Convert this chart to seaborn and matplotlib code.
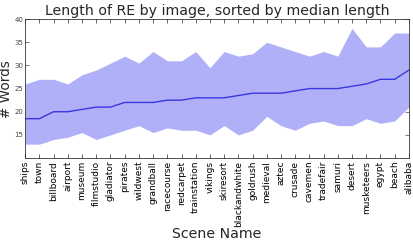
import matplotlib
matplotlib.use("Agg")
import matplotlib.pyplot as plt
import numpy as np
import pandas as pd
import seaborn as sns

scenes = ['ships', 'town', 'billboard', 'airport', 'museum', 'filmstudio', 'gladiator',
          'pirates', 'wildwest', 'grandball', 'racecourse', 'redcarpet', 'trainstation',
          'vikings', 'skiresort', 'blackandwhite', 'goldrush', 'medieval', 'aztec',
          'crusade', 'cavemen', 'tradefair', 'samuri', 'desert', 'musketeers', 'egypt',
          'beach', 'alibaba']
median_len = [18.5, 18.5, 20, 20, 20.5, 21, 21, 22, 22, 22, 22.5, 22.5, 23, 23,
              23, 23.5, 24, 24, 24, 24.5, 25, 25, 25, 25.5, 26, 27, 27, 29]
upper_len = [26, 27, 27, 26, 28, 29, 30.5, 32, 30.5, 33, 31, 31, 33, 29.5,
             33, 32, 32.5, 35, 34, 33, 32, 33, 32, 38, 34, 34, 37, 37]
lower_len = [13, 13, 14, 14.5, 15.5, 14, 15, 16, 17, 15.5, 16.5, 16, 16, 15,
             17, 15, 16, 19, 17, 16, 17.5, 18, 17, 17, 18.5, 17.5, 18, 21]

df = pd.DataFrame({'pos': np.arange(len(scenes)), 'scene': scenes,
                   'median': median_len, 'lo': lower_len, 'hi': upper_len})

sns.set_style("white", {"xtick.direction": "in", "ytick.direction": "in"})
plt.rcParams["font.family"] = "DejaVu Sans"

fig = plt.figure(figsize=(4.13, 2.42), dpi=100)
ax = fig.add_axes([0.061, 0.347, 0.929, 0.574])

ax.fill_between(df['pos'], df['lo'], df['hi'], color='#b0b0f8', linewidth=0)
sns.lineplot(data=df, x='pos', y='median', ax=ax, color='#3838e0', linewidth=1)

ax.set_xlim(0, len(scenes) - 1)
ax.set_ylim(10, 40)
ax.set_xticks(df['pos'])
ax.set_xticklabels(scenes, rotation=90, fontsize=6.5)
ax.set_yticks([15, 20, 25, 30, 35, 40])
ax.tick_params(axis='y', labelsize=5, length=3, width=0.5, colors='#444444',
               right=True, left=True, pad=1.5)
ax.tick_params(axis='x', length=3, width=0.5, top=True, bottom=True, pad=2)
for lab in ax.get_xticklabels():
    lab.set_color('black')
for s in ax.spines.values():
    s.set_linewidth(0.6)
    s.set_color('#333333')

ax.set_title('Length of RE by image, sorted by median length', fontsize=10.2, pad=3)
ax.set_xlabel('Scene Name', fontsize=10.2)
ax.set_ylabel('# Words', fontsize=9.8)
ax.xaxis.set_label_coords(0.5, -0.5)
ax.yaxis.set_label_coords(-0.032, 0.5)

fig.savefig('out.png', dpi=100)
